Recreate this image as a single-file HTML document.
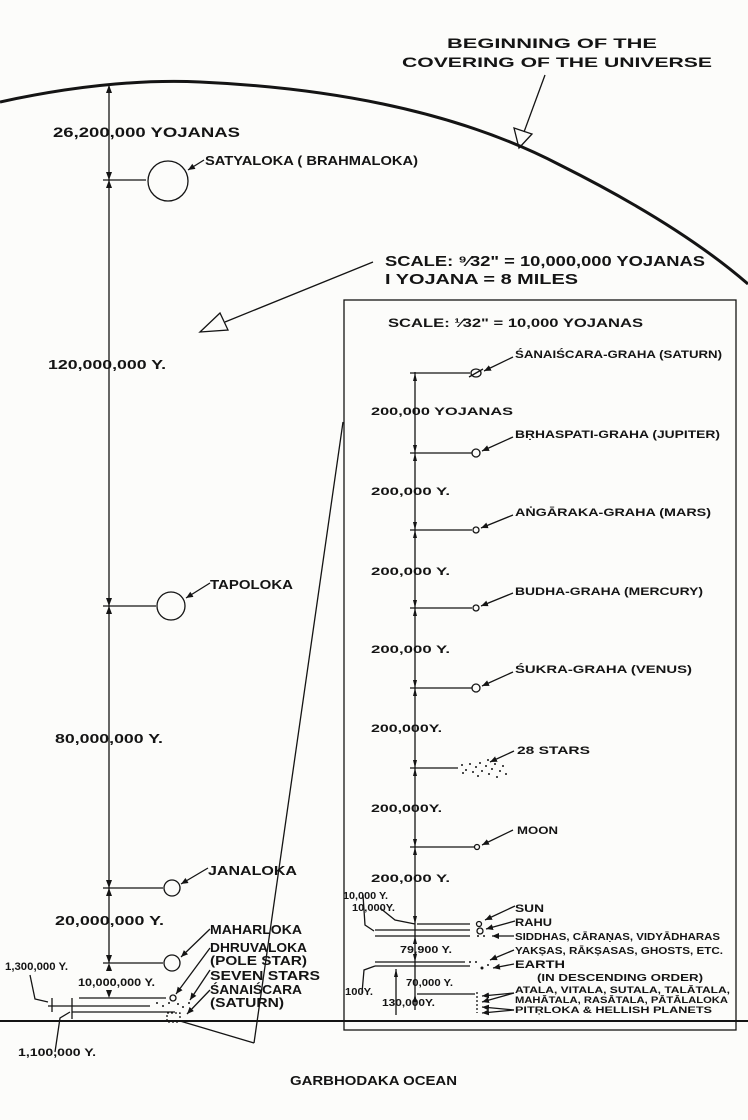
<!DOCTYPE html>
<html><head><meta charset="utf-8"><style>
html,body{margin:0;padding:0;background:#fcfcfa;}
svg{display:block}
text{font-family:"Liberation Sans",sans-serif;font-weight:bold;fill:#141414;}
</style></head><body>
<svg width="748" height="1120" viewBox="0 0 748 1120" xmlns="http://www.w3.org/2000/svg">
<defs>
<marker id="ah" markerWidth="8" markerHeight="8" refX="7" refY="4" orient="auto" markerUnits="userSpaceOnUse"><path d="M0,1 L7,4 L0,7 Z" fill="#141414"/></marker>
</defs>
<g stroke="#141414" fill="none" stroke-width="1.3">
<path d="M0,102 Q110,78 200,82 Q420,92 560,165 Q680,225 748,284" stroke-width="3"/>
<line x1="109" y1="85" x2="109" y2="963"/>
<line x1="103" y1="180" x2="146" y2="180"/>
<circle cx="168" cy="181" r="20"/>
<line x1="103" y1="606" x2="156" y2="606"/>
<circle cx="171" cy="606" r="14"/>
<line x1="103" y1="888" x2="163" y2="888"/>
<circle cx="172" cy="888" r="8"/>
<line x1="103" y1="963" x2="163" y2="963"/>
<circle cx="172" cy="963" r="8"/>
<line x1="79" y1="998" x2="166" y2="998"/>
<line x1="48" y1="1006" x2="150" y2="1006"/>
<line x1="72" y1="1012" x2="175" y2="1012"/>
<circle cx="173" cy="998" r="3"/>
<line x1="0" y1="1021" x2="748" y2="1021" stroke-width="2"/>
<rect x="167" y="1013" width="13" height="9" stroke-dasharray="2,2"/>
<line x1="180" y1="1021" x2="254" y2="1043"/>
<line x1="254" y1="1043" x2="343" y2="422"/>
<path d="M30,975 L35,999 L48,1002"/>
<path d="M55,1052 L60,1018 L70,1012"/>
<line x1="52" y1="998" x2="52" y2="1012"/>
<line x1="72" y1="998" x2="72" y2="1019"/>
<line x1="204" y1="160" x2="188" y2="170" marker-end="url(#ah)"/>
<line x1="210" y1="583" x2="186" y2="598" marker-end="url(#ah)"/>
<line x1="208" y1="868" x2="181" y2="884" marker-end="url(#ah)"/>
<line x1="210" y1="929" x2="181" y2="957" marker-end="url(#ah)"/>
<line x1="210" y1="948" x2="176" y2="994" marker-end="url(#ah)"/>
<line x1="210" y1="970" x2="190" y2="1000" marker-end="url(#ah)"/>
<line x1="210" y1="990" x2="187" y2="1014" marker-end="url(#ah)"/>
<line x1="545" y1="75" x2="524" y2="132"/>
<path d="M514,128 L519,148 L532,134 Z"/>
<line x1="373" y1="262" x2="225" y2="322"/>
<path d="M220,313 L200,332 L228,330 Z"/>
<rect x="344" y="300" width="392" height="730"/>
<line x1="415" y1="372" x2="415" y2="1010"/>
<line x1="410" y1="373" x2="470" y2="373"/>
<ellipse cx="476" cy="373" rx="5" ry="4"/>
<line x1="469" y1="377" x2="483" y2="369"/>
<line x1="410" y1="453" x2="472" y2="453"/><circle cx="476" cy="453" r="4"/>
<line x1="410" y1="530" x2="472" y2="530"/><circle cx="476" cy="530" r="3"/>
<line x1="410" y1="608" x2="472" y2="608"/><circle cx="476" cy="608" r="3"/>
<line x1="410" y1="688" x2="472" y2="688"/><circle cx="476" cy="688" r="4"/>
<line x1="410" y1="768" x2="458" y2="768"/>
<line x1="410" y1="847" x2="474" y2="847"/><circle cx="477" cy="847" r="2.5"/>
<line x1="417" y1="924" x2="470" y2="924"/>
<line x1="375" y1="930" x2="470" y2="930"/>
<line x1="375" y1="936" x2="470" y2="936"/>
<line x1="375" y1="962" x2="465" y2="962"/>
<line x1="375" y1="966" x2="470" y2="966"/>
<line x1="417" y1="994" x2="475" y2="994"/>
<circle cx="479" cy="924" r="2.5"/><circle cx="480" cy="931" r="3"/>
<path d="M363,895 L365,925 L374,931"/>
<path d="M380,908 L395,920 L415,924"/>
<path d="M362,993 L364,970 L375,966"/>
<line x1="396" y1="969" x2="396" y2="1015"/>
<line x1="477" y1="992" x2="477" y2="1013" stroke-dasharray="2,2"/>
<line x1="515" y1="906" x2="485" y2="920" marker-end="url(#ah)"/>
<line x1="515" y1="921" x2="486" y2="929" marker-end="url(#ah)"/>
<line x1="514" y1="936" x2="492" y2="936" marker-end="url(#ah)"/>
<line x1="514" y1="950" x2="490" y2="960" marker-end="url(#ah)"/>
<line x1="514" y1="964" x2="493" y2="968" marker-end="url(#ah)"/>
<line x1="514" y1="993" x2="482" y2="996" marker-end="url(#ah)"/>
<line x1="514" y1="993" x2="482" y2="1002" marker-end="url(#ah)"/>
<line x1="514" y1="1010" x2="482" y2="1007" marker-end="url(#ah)"/>
<line x1="514" y1="1010" x2="482" y2="1013" marker-end="url(#ah)"/>
<line x1="513" y1="357" x2="484" y2="371" marker-end="url(#ah)"/>
<line x1="513" y1="437" x2="482" y2="451" marker-end="url(#ah)"/>
<line x1="513" y1="515" x2="481" y2="528" marker-end="url(#ah)"/>
<line x1="513" y1="593" x2="481" y2="606" marker-end="url(#ah)"/>
<line x1="513" y1="672" x2="482" y2="686" marker-end="url(#ah)"/>
<line x1="514" y1="751" x2="490" y2="762" marker-end="url(#ah)"/>
<line x1="513" y1="830" x2="482" y2="845" marker-end="url(#ah)"/>
</g>
<g fill="#141414">
<path d="M106,93 L109,85 L112,93Z M106,172 L109,180 L112,172Z M106,188 L109,180 L112,188Z M106,598 L109,606 L112,598Z M106,614 L109,606 L112,614Z M106,880 L109,888 L112,880Z M106,896 L109,888 L112,896Z M106,955 L109,963 L112,955Z M106,971 L109,963 L112,971Z M106,990 L109,998 L112,990Z"/>
<path d="M413,381 L415,373 L417,381Z M413,445 L415,453 L417,445Z M413,461 L415,453 L417,461Z M413,522 L415,530 L417,522Z M413,538 L415,530 L417,538Z M413,600 L415,608 L417,600Z M413,616 L415,608 L417,616Z M413,680 L415,688 L417,680Z M413,696 L415,688 L417,696Z M413,760 L415,768 L417,760Z M413,776 L415,768 L417,776Z M413,839 L415,847 L417,839Z M413,855 L415,847 L417,855Z M413,916 L415,924 L417,916Z M413,944 L415,936 L417,944Z M413,954 L415,962 L417,954Z M413,1002 L415,994 L417,1002Z M394,977 L396,969 L398,977Z"/>
<g>
<circle cx="462" cy="765" r="1"/><circle cx="466" cy="770" r="1"/><circle cx="470" cy="764" r="1"/><circle cx="473" cy="772" r="1"/><circle cx="476" cy="767" r="1"/><circle cx="480" cy="763" r="1"/><circle cx="482" cy="771" r="1"/><circle cx="486" cy="766" r="1"/><circle cx="489" cy="774" r="1"/><circle cx="492" cy="769" r="1"/><circle cx="495" cy="764" r="1"/><circle cx="497" cy="777" r="1"/><circle cx="500" cy="771" r="1"/><circle cx="503" cy="766" r="1"/><circle cx="506" cy="774" r="1"/><circle cx="463" cy="773" r="1"/><circle cx="478" cy="776" r="1"/><circle cx="488" cy="760" r="1"/>
<circle cx="157" cy="1003" r="1"/><circle cx="163" cy="1006" r="1"/><circle cx="169" cy="1003" r="1"/><circle cx="178" cy="1004" r="1"/><circle cx="183" cy="1007" r="1"/><circle cx="189" cy="1003" r="1"/>
<circle cx="478" cy="936" r="1"/><circle cx="484" cy="936" r="1"/><circle cx="470" cy="962" r="1"/><circle cx="476" cy="962" r="1"/><circle cx="482" cy="968" r="1.5"/><circle cx="488" cy="965" r="1"/>
</g>
</g>
<g font-size="13">
<text x="447" y="48" font-size="14" textLength="210" lengthAdjust="spacingAndGlyphs">BEGINNING OF THE</text>
<text x="402" y="67" font-size="14" textLength="310" lengthAdjust="spacingAndGlyphs">COVERING OF THE UNIVERSE</text>
<text x="53" y="137" font-size="14" textLength="187" lengthAdjust="spacingAndGlyphs">26,200,000 YOJANAS</text>
<text x="205" y="165" textLength="213" lengthAdjust="spacingAndGlyphs">SATYALOKA ( BRAHMALOKA)</text>
<text x="385" y="266" font-size="15" textLength="320" lengthAdjust="spacingAndGlyphs">SCALE: ⁹⁄32" = 10,000,000 YOJANAS</text>
<text x="385" y="284" font-size="15" textLength="193" lengthAdjust="spacingAndGlyphs">I YOJANA = 8 MILES</text>
<text x="388" y="327" font-size="12" textLength="255" lengthAdjust="spacingAndGlyphs">SCALE: ¹⁄32" = 10,000 YOJANAS</text>
<text x="48" y="369" textLength="118" lengthAdjust="spacingAndGlyphs">120,000,000 Y.</text>
<text x="210" y="589" textLength="83" lengthAdjust="spacingAndGlyphs">TAPOLOKA</text>
<text x="55" y="743" textLength="108" lengthAdjust="spacingAndGlyphs">80,000,000 Y.</text>
<text x="208" y="875" textLength="89" lengthAdjust="spacingAndGlyphs">JANALOKA</text>
<text x="55" y="925" textLength="109" lengthAdjust="spacingAndGlyphs">20,000,000 Y.</text>
<text x="210" y="934" textLength="92" lengthAdjust="spacingAndGlyphs">MAHARLOKA</text>
<text x="210" y="952" textLength="97" lengthAdjust="spacingAndGlyphs">DHRUVALOKA</text>
<text x="210" y="965" textLength="97" lengthAdjust="spacingAndGlyphs">(POLE STAR)</text>
<text x="210" y="980" textLength="110" lengthAdjust="spacingAndGlyphs">SEVEN STARS</text>
<text x="210" y="994" textLength="92" lengthAdjust="spacingAndGlyphs">ŚANAIŚCARA</text>
<text x="210" y="1007" textLength="74" lengthAdjust="spacingAndGlyphs">(SATURN)</text>
<text x="5" y="970" font-size="11" textLength="63" lengthAdjust="spacingAndGlyphs">1,300,000 Y.</text>
<text x="78" y="986" font-size="11" textLength="77" lengthAdjust="spacingAndGlyphs">10,000,000 Y.</text>
<text x="18" y="1056" font-size="11" textLength="78" lengthAdjust="spacingAndGlyphs">1,100,000 Y.</text>
<text x="290" y="1085" textLength="167" lengthAdjust="spacingAndGlyphs">GARBHODAKA OCEAN</text>
<g font-size="11">
<text x="515" y="358" textLength="207" lengthAdjust="spacingAndGlyphs">ŚANAIŚCARA-GRAHA (SATURN)</text>
<text x="371" y="415" textLength="142" lengthAdjust="spacingAndGlyphs">200,000 YOJANAS</text>
<text x="515" y="438" textLength="205" lengthAdjust="spacingAndGlyphs">BṚHASPATI-GRAHA (JUPITER)</text>
<text x="371" y="495" textLength="79" lengthAdjust="spacingAndGlyphs">200,000 Y.</text>
<text x="515" y="516" textLength="196" lengthAdjust="spacingAndGlyphs">AṄGĀRAKA-GRAHA (MARS)</text>
<text x="371" y="575" textLength="79" lengthAdjust="spacingAndGlyphs">200,000 Y.</text>
<text x="515" y="595" textLength="188" lengthAdjust="spacingAndGlyphs">BUDHA-GRAHA (MERCURY)</text>
<text x="371" y="653" textLength="79" lengthAdjust="spacingAndGlyphs">200,000 Y.</text>
<text x="515" y="673" textLength="177" lengthAdjust="spacingAndGlyphs">ŚUKRA-GRAHA (VENUS)</text>
<text x="371" y="732" textLength="71" lengthAdjust="spacingAndGlyphs">200,000Y.</text>
<text x="517" y="754" textLength="73" lengthAdjust="spacingAndGlyphs">28 STARS</text>
<text x="371" y="812" textLength="71" lengthAdjust="spacingAndGlyphs">200,000Y.</text>
<text x="517" y="834" textLength="41" lengthAdjust="spacingAndGlyphs">MOON</text>
<text x="371" y="882" textLength="79" lengthAdjust="spacingAndGlyphs">200,000 Y.</text>
<text x="515" y="912" textLength="29" lengthAdjust="spacingAndGlyphs">SUN</text>
<text x="515" y="926" textLength="37" lengthAdjust="spacingAndGlyphs">RAHU</text>
<text x="515" y="940" font-size="10" textLength="205" lengthAdjust="spacingAndGlyphs">SIDDHAS, CĀRAṆAS, VIDYĀDHARAS</text>
<text x="515" y="954" font-size="10" textLength="208" lengthAdjust="spacingAndGlyphs">YAKṢAS, RĀKṢASAS, GHOSTS, ETC.</text>
<text x="515" y="968" textLength="50" lengthAdjust="spacingAndGlyphs">EARTH</text>
<text x="537" y="981" font-size="10" textLength="166" lengthAdjust="spacingAndGlyphs">(IN DESCENDING ORDER)</text>
<text x="515" y="993" font-size="9" textLength="215" lengthAdjust="spacingAndGlyphs">ATALA, VITALA, SUTALA, TALĀTALA,</text>
<text x="515" y="1003" font-size="9" textLength="213" lengthAdjust="spacingAndGlyphs">MAHĀTALA, RASĀTALA, PĀTĀLALOKA</text>
<text x="515" y="1013" font-size="9" textLength="197" lengthAdjust="spacingAndGlyphs">PITṚLOKA &amp; HELLISH PLANETS</text>
<text x="343" y="899" font-size="10" textLength="45" lengthAdjust="spacingAndGlyphs">10,000 Y.</text>
<text x="352" y="911" font-size="10" textLength="43" lengthAdjust="spacingAndGlyphs">10,000Y.</text>
<text x="400" y="953" font-size="10" textLength="52" lengthAdjust="spacingAndGlyphs">79,900 Y.</text>
<text x="406" y="986" font-size="10" textLength="47" lengthAdjust="spacingAndGlyphs">70,000 Y.</text>
<text x="345" y="995" font-size="10" textLength="28" lengthAdjust="spacingAndGlyphs">100Y.</text>
<text x="382" y="1006" font-size="10" textLength="53" lengthAdjust="spacingAndGlyphs">130,000Y.</text>
</g>
</g>
</svg>
</body></html>
